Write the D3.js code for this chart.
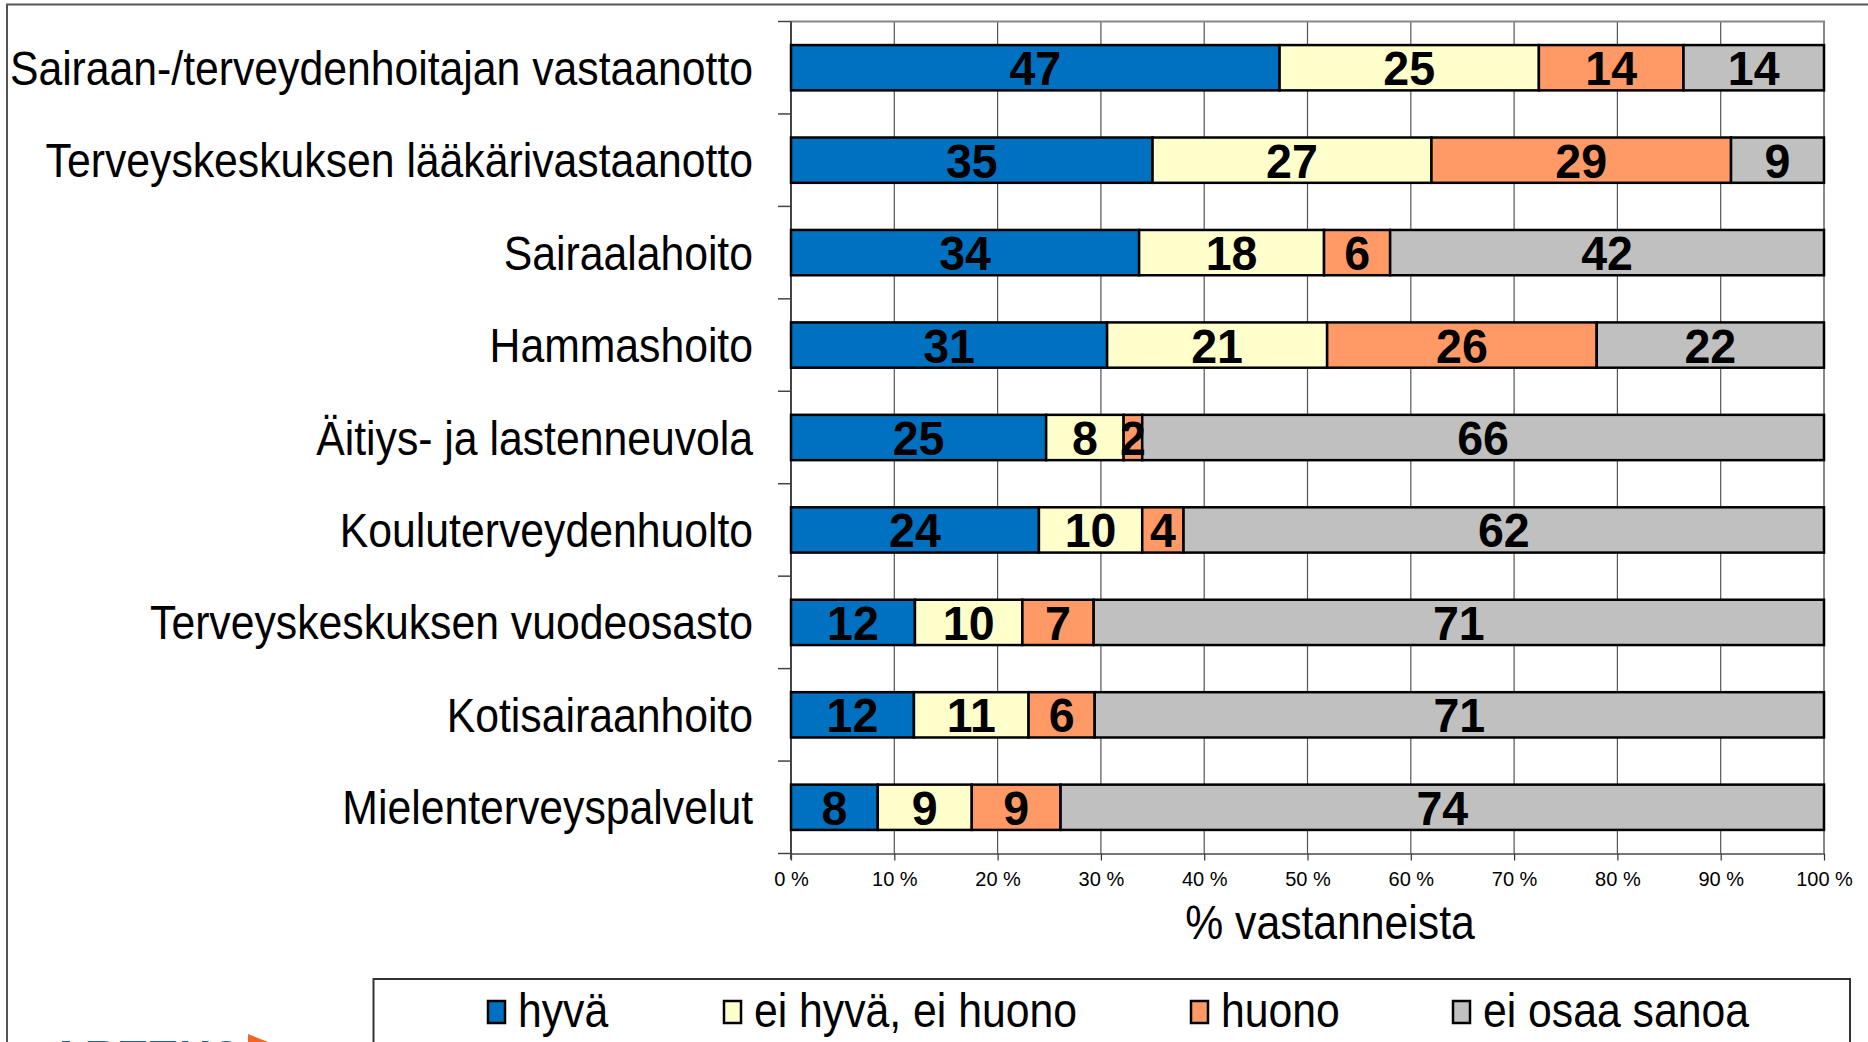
<!DOCTYPE html>
<html>
<head>
<meta charset="utf-8">
<script src="https://cdn.jsdelivr.net/npm/d3@7"></script>
<style>
  html, body { margin: 0; padding: 0; background: #fff; }
  svg { display: block; }
  text { font-family: "Liberation Sans", Arial, sans-serif; }
</style>
</head>
<body>
<svg id="chart" width="1868" height="1042"></svg>
<script>
// ---- data (percent of respondents; labels are shown rounded) ----
const categories = [
  "Sairaan-/terveydenhoitajan vastaanotto",
  "Terveyskeskuksen lääkärivastaanotto",
  "Sairaalahoito",
  "Hammashoito",
  "Äitiys- ja lastenneuvola",
  "Kouluterveydenhuolto",
  "Terveyskeskuksen vuodeosasto",
  "Kotisairaanhoito",
  "Mielenterveyspalvelut"
];
const seriesNames = ["hyvä", "ei hyvä, ei huono", "huono", "ei osaa sanoa"];
const hyva          = [47.3, 35, 33.7, 30.6, 24.7, 24, 12, 11.9, 8.4];
const eiHyvaEiHuono = [25.1, 27, 17.9, 21.3, 7.5, 10, 10.4, 11.1, 9.1];
const huono         = [14.0, 29, 6.4, 26.1, 1.8, 4, 6.9, 6.4, 8.6];
const eiOsaaSanoa   = [13.6, 9, 42.0, 22.0, 66.0, 62, 70.7, 70.6, 73.9];
const seriesColors = ["#0070C0", "#FFFFCC", "#FF9966", "#C0C0C0"];
const tickValues = [0, 10, 20, 30, 40, 50, 60, 70, 80, 90, 100];
const axisTitle = "% vastanneista";
const logoText = "ARTTU2";

// ---- layout ----
const svg = d3.select("#chart");
const W = 1868, H = 1042;
const plot = { left: 791, right: 1824, top: 21.5, bottom: 853.5 };
const SX = 0.89; // horizontal text compression

const seriesValues = [hyva, eiHyvaEiHuono, huono, eiOsaaSanoa];
const rows = categories.map((c, i) => {
  const r = { cat: c };
  seriesNames.forEach((s, j) => r[s] = seriesValues[j][i]);
  return r;
});

const stack = d3.stack().keys(seriesNames).offset(d3.stackOffsetExpand);
const stacked = stack(rows);

const x = d3.scaleLinear().domain([0, 1]).range([plot.left, plot.right]);
const y = d3.scaleBand().domain(categories).range([plot.top, plot.bottom])
  .paddingInner(0.51).paddingOuter(0.255);

// outer frame
svg.append("path")
  .attr("d", `M7,${H} L7,4.5 L${W},4.5`)
  .attr("fill", "none").attr("stroke", "#555").attr("stroke-width", 2);

// gridlines
svg.append("g").selectAll("line").data(tickValues.slice(1, -1)).join("line")
  .attr("x1", d => x(d / 100)).attr("x2", d => x(d / 100))
  .attr("y1", plot.top).attr("y2", plot.bottom)
  .attr("stroke", "#555").attr("stroke-width", 1.2);

// plot border top/right
svg.append("path")
  .attr("d", `M${plot.left},${plot.top} L${plot.right},${plot.top} L${plot.right},${plot.bottom}`)
  .attr("fill", "none").attr("stroke", "#888").attr("stroke-width", 2);

// bottom axis
const xAxis = d3.axisBottom(x).tickValues(tickValues.map(d => d / 100))
  .tickSize(7).tickSizeOuter(0).tickFormat(d => Math.round(d * 100) + " %");
const gx = svg.append("g").attr("transform", `translate(0,${plot.bottom})`).call(xAxis);
gx.select(".domain").attr("stroke", "#777").attr("stroke-width", 2);
gx.selectAll(".tick line").attr("stroke", "#333").attr("stroke-width", 1.2);
gx.selectAll(".tick text").attr("font-size", 20).attr("fill", "#000")
  .attr("font-family", "'Liberation Sans', Arial, sans-serif").attr("y", 18).attr("dy", "0.71em");

// left axis (category boundaries as ticks)
const boundaries = d3.range(categories.length + 1).map(i => plot.top + i * y.step());
svg.append("line").attr("x1", plot.left).attr("x2", plot.left)
  .attr("y1", plot.top).attr("y2", plot.bottom + 6)
  .attr("stroke", "#444").attr("stroke-width", 2);
svg.append("g").selectAll("line").data(boundaries).join("line")
  .attr("x1", plot.left - 13).attr("x2", plot.left)
  .attr("y1", d => d).attr("y2", d => d)
  .attr("stroke", "#444").attr("stroke-width", 1.5);

// bars
const layers = svg.append("g").selectAll("g").data(stacked).join("g")
  .attr("fill", (d, i) => seriesColors[i]);
layers.selectAll("rect").data(d => d).join("rect")
  .attr("x", d => x(d[0])).attr("width", d => x(d[1]) - x(d[0]))
  .attr("y", d => y(d.data.cat)).attr("height", y.bandwidth())
  .attr("stroke", "#000").attr("stroke-width", 2.5);

// value labels
const labelG = svg.append("g");
stacked.forEach((layer, j) => {
  layer.forEach(d => {
    const cx = (x(d[0]) + x(d[1])) / 2;
    const cy = y(d.data.cat) + y.bandwidth() / 2 + 17.5;
    labelG.append("text")
      .attr("transform", `translate(${cx},${cy}) scale(0.95,1)`)
      .attr("text-anchor", "middle")
      .attr("font-size", 49).attr("font-weight", "bold").attr("fill", "#000")
      .text(Math.round(d.data[layer.key]));
  });
});

// category labels
svg.append("g").selectAll("text").data(categories).join("text")
  .attr("transform", d => `translate(753,${y(d) + y.bandwidth() / 2 + 17}) scale(${SX},1)`)
  .attr("text-anchor", "end").attr("font-size", 48).attr("fill", "#000")
  .text(d => d);

// axis title
svg.append("text")
  .attr("transform", `translate(1330,939) scale(${SX},1)`)
  .attr("text-anchor", "middle").attr("font-size", 48).attr("fill", "#000")
  .text(axisTitle);

// legend
svg.append("path")
  .attr("d", `M373.5,${H} L373.5,979 L1850,979 L1850,${H}`)
  .attr("fill", "#fff").attr("stroke", "#333").attr("stroke-width", 2);
const legendX = [488, 724, 1191, 1453];
const lg = svg.append("g").selectAll("g").data(seriesNames).join("g")
  .attr("transform", (d, i) => `translate(${legendX[i]},0)`);
lg.append("rect").attr("x", 0).attr("y", 1001).attr("width", 17).attr("height", 22)
  .attr("fill", (d, i) => seriesColors[i]).attr("stroke", "#000").attr("stroke-width", 2.5);
lg.append("text")
  .attr("transform", `translate(30,1027) scale(${SX},1)`)
  .attr("font-size", 48).attr("fill", "#000").text(d => d);

// logo (partially visible at bottom edge, as in the reference)
svg.append("text").attr("x", 50).attr("y", 1072).attr("font-size", 44)
  .attr("font-weight", "bold").attr("fill", "#1d5b9a").attr("letter-spacing", 3).text(logoText);
svg.append("path").attr("d", "M248,1034 L268,1042 L248,1042 Z").attr("fill", "#f26522");
</script>
</body>
</html>
